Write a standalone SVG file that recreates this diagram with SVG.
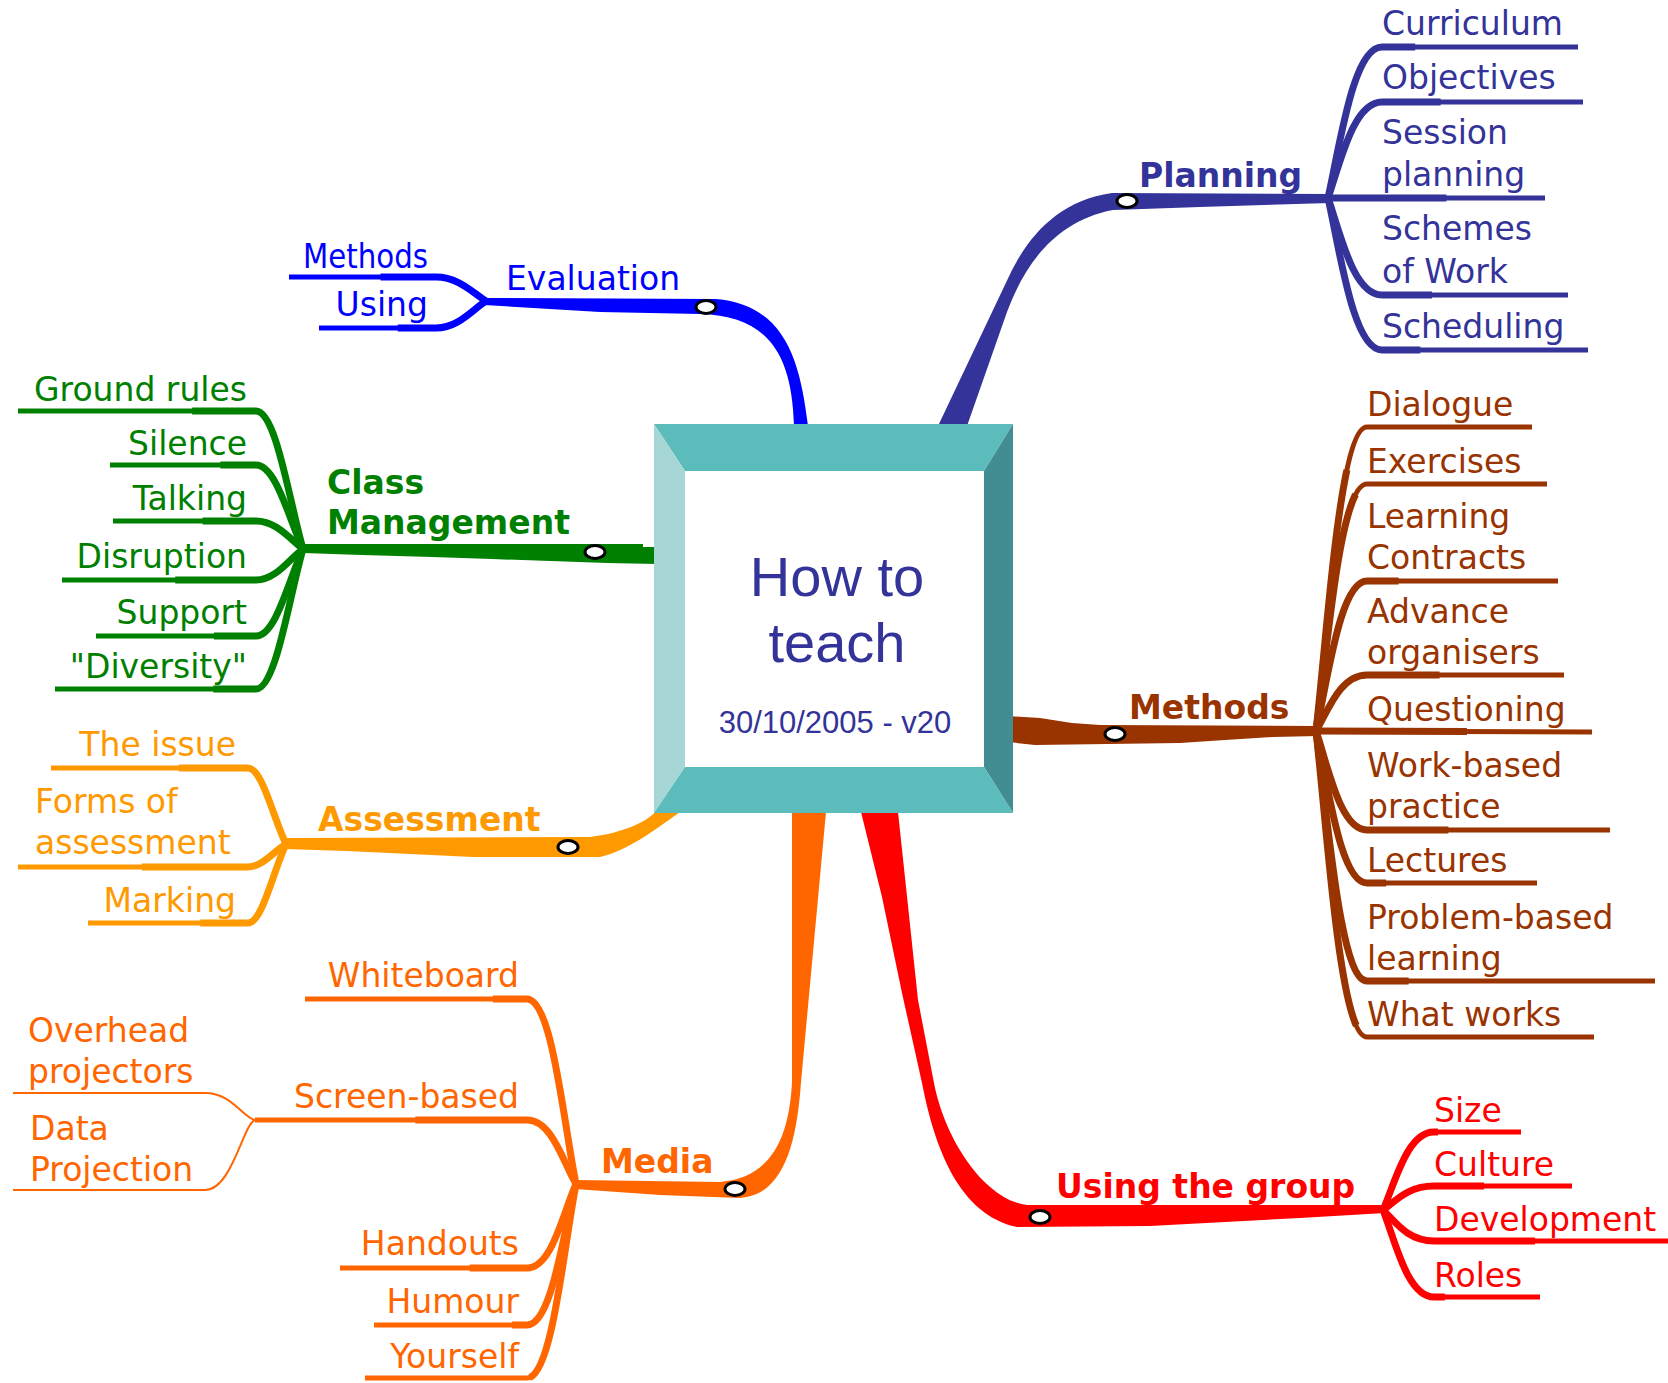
<svg xmlns="http://www.w3.org/2000/svg" xmlns:xlink="http://www.w3.org/1999/xlink" width="1668" height="1383" viewBox="0 0 1668 1383">
<style>
  .ln{fill:none;stroke-linecap:butt;stroke-linejoin:round}
  .plan{stroke:#333399} .eval{stroke:#0000ff} .cls{stroke:#008000} .asm{stroke:#ff9900}
  .med{stroke:#ff6600} .grp{stroke:#ff0000} .mth{stroke:#993300}
  .s1{stroke-width:5} .s2{stroke-width:7;stroke-dasharray:55 200} .thin{stroke-width:2}
  .lbl{font-family:"DejaVu Sans",Verdana,sans-serif;font-size:33px}
  .bold{font-weight:bold}
  .end{text-anchor:end}
  .tplan{fill:#333399} .teval{fill:#0000ff} .tcls{fill:#008000} .tasm{fill:#ff9900}
  .tmed{fill:#ff6600} .tgrp{fill:#ff0000} .tmth{fill:#993300}
  .title{font-family:"Liberation Sans",Arial,sans-serif;fill:#333399;text-anchor:middle}
  .mk{fill:#fff;stroke:#000;stroke-width:3}
</style>
<defs>
  <!-- Planning sub-topics -->
  <path id="p1" pathLength="100" d="M1328 198C1340 145 1353 47 1382 47L1578 47"/>
  <path id="p2" pathLength="100" d="M1328 198C1340 164 1353 102 1382 102L1583 102"/>
  <path id="p3" pathLength="100" d="M1326 198L1545 198"/>
  <path id="p4" pathLength="100" d="M1328 198C1340 232 1353 295 1382 295L1568 295"/>
  <path id="p5" pathLength="100" d="M1328 198C1340 251 1353 350 1382 350L1588 350"/>
  <!-- Methods sub-topics -->
  <path id="m1" pathLength="100" d="M1316 731C1328 625 1340 427 1367 427L1532 427"/>
  <path id="m2" pathLength="100" d="M1316 731C1328 645 1340 484 1367 484L1547 484"/>
  <path id="m3" pathLength="100" d="M1316 731C1328 679 1340 581 1367 581L1558 581"/>
  <path id="m4" pathLength="100" d="M1316 731C1328 711 1340 675 1367 675L1564 675"/>
  <path id="m5" pathLength="100" d="M1314 731L1592 732"/>
  <path id="m6" pathLength="100" d="M1316 731C1328 766 1340 830 1367 830L1610 830"/>
  <path id="m7" pathLength="100" d="M1316 731C1328 784 1340 883 1367 883L1537 883"/>
  <path id="m8" pathLength="100" d="M1316 731C1328 818 1340 981 1367 981L1655 981"/>
  <path id="m9" pathLength="100" d="M1316 731C1328 838 1340 1037 1367 1037L1594 1037"/>
  <!-- Using the group sub-topics -->
  <path id="u1" pathLength="100" d="M1383 1210C1395 1183 1407 1132 1434 1132L1521 1132"/>
  <path id="u2" pathLength="100" d="M1383 1210C1395 1202 1407 1186 1434 1186L1572 1186"/>
  <path id="u3" pathLength="100" d="M1383 1210C1395 1221 1407 1241 1434 1241L1668 1241"/>
  <path id="u4" pathLength="100" d="M1383 1210C1395 1240 1407 1297 1434 1297L1540 1297"/>
  <!-- Class Management sub-topics -->
  <path id="c1" pathLength="100" d="M303 549C289 500 276 411 256 411L18 411"/>
  <path id="c2" pathLength="100" d="M303 549C289 519 276 465 256 465L110 465"/>
  <path id="c3" pathLength="100" d="M303 549C289 538 276 521 256 521L113 521"/>
  <path id="c4" pathLength="100" d="M303 549C289 559 276 580 256 580L62 580"/>
  <path id="c5" pathLength="100" d="M303 549C289 579 276 636 256 636L96 636"/>
  <path id="c6" pathLength="100" d="M303 549C289 597 276 689 256 689L55 689"/>
  <!-- Evaluation sub-topics -->
  <path id="e1" pathLength="100" d="M486 301C472 292 458 277 436 277L289 277"/>
  <path id="e2" pathLength="100" d="M486 301C472 310 458 328 436 328L319 328"/>
  <!-- Assessment sub-topics -->
  <path id="a1" pathLength="100" d="M286 844C273 817 262 768 248 768L51 768"/>
  <path id="a2" pathLength="100" d="M286 844C273 852 262 867 248 867L18 867"/>
  <path id="a3" pathLength="100" d="M286 844C273 872 262 923 248 923L88 923"/>
  <!-- Media sub-topics -->
  <path id="d1" pathLength="100" d="M576 1184C563 1119 552 999 527 999L305 999"/>
  <path id="d2" pathLength="100" d="M576 1184C563 1162 552 1120 527 1120L255 1120"/>
  <path id="d3" pathLength="100" d="M576 1184C563 1213 552 1268 527 1268L340 1268"/>
  <path id="d4" pathLength="100" d="M576 1184C563 1233 552 1325 527 1325L374 1325"/>
  <path id="d5" pathLength="100" d="M576 1184C563 1252 552 1378 527 1378L365 1378"/>
</defs>

<rect width="1668" height="1383" fill="#fff"/>

<g id="connectors">
  <!-- tapered trunks from the central topic -->
  <path fill="#333399" d="M938 426L1012 270C1030 235 1060 200 1112 193L1330 194L1330 203L1200 207L1113 210C1050 222 1022 272 1007 312L967 426Z"/>
  <path fill="#0000ff" d="M794 426C792 350 765 316 700 314L600 312L484 305L484 298L716 299C785 305 800 360 808 426Z"/>
  <path fill="#008000" d="M303 544L643 544L643 547L657 547L657 564L607 563L492 559L432 557L362 555L303 553Z"/>
  <path fill="#ff9900" d="M657 810L683 810C660 826 630 850 600 857L473 857L410 854L347 851L285 849L285 838L590 837C615 834 645 825 657 810Z"/>
  <path fill="#ff6600" d="M792 812L826 812L801 1082C797 1140 785 1195 740 1198L660 1195L575 1189L575 1180L720 1182C770 1178 789 1140 792 1082Z"/>
  <path fill="#ff0000" d="M861 812L882 897L902 993L922 1083C935 1150 960 1215 1017 1227L1150 1226L1300 1218L1385 1213L1385 1205L1027 1205C985 1200 945 1140 934 1083L918 1000L906 887L898 812Z"/>
  <path fill="#993300" d="M1008 716L1040 718L1072 723L1100 725L1318 726L1318 736L1273 737L1225 740L1180 743L1035 745L1008 742Z"/>

  <!-- Planning -->
  <g class="ln plan">
    <use xlink:href="#p1" class="s1"/><use xlink:href="#p1" class="s2"/>
    <use xlink:href="#p2" class="s1"/><use xlink:href="#p2" class="s2"/>
    <use xlink:href="#p3" class="s1"/><use xlink:href="#p3" class="s2"/>
    <use xlink:href="#p4" class="s1"/><use xlink:href="#p4" class="s2"/>
    <use xlink:href="#p5" class="s1"/><use xlink:href="#p5" class="s2"/>
  </g>
  <!-- Evaluation -->
  <g class="ln eval">
    <use xlink:href="#e1" class="s1"/><use xlink:href="#e1" class="s2"/>
    <use xlink:href="#e2" class="s1"/><use xlink:href="#e2" class="s2"/>
  </g>
  <!-- Class Management -->
  <g class="ln cls">
    <use xlink:href="#c1" class="s1"/><use xlink:href="#c1" class="s2"/>
    <use xlink:href="#c2" class="s1"/><use xlink:href="#c2" class="s2"/>
    <use xlink:href="#c3" class="s1"/><use xlink:href="#c3" class="s2"/>
    <use xlink:href="#c4" class="s1"/><use xlink:href="#c4" class="s2"/>
    <use xlink:href="#c5" class="s1"/><use xlink:href="#c5" class="s2"/>
    <use xlink:href="#c6" class="s1"/><use xlink:href="#c6" class="s2"/>
  </g>
  <!-- Assessment -->
  <g class="ln asm">
    <use xlink:href="#a1" class="s1"/><use xlink:href="#a1" class="s2"/>
    <use xlink:href="#a2" class="s1"/><use xlink:href="#a2" class="s2"/>
    <use xlink:href="#a3" class="s1"/><use xlink:href="#a3" class="s2"/>
  </g>
  <!-- Media -->
  <g class="ln med">
    <use xlink:href="#d1" class="s1"/><use xlink:href="#d1" class="s2"/>
    <use xlink:href="#d2" class="s1"/><use xlink:href="#d2" class="s2"/>
    <use xlink:href="#d3" class="s1"/><use xlink:href="#d3" class="s2"/>
    <use xlink:href="#d4" class="s1"/><use xlink:href="#d4" class="s2"/>
    <use xlink:href="#d5" class="s1"/><use xlink:href="#d5" class="s2"/>
    <path class="thin" d="M255 1120C243 1118 232 1093 205 1093L13 1093"/>
    <path class="thin" d="M255 1120C243 1124 232 1190 205 1190L13 1190"/>
  </g>
  <!-- Using the group -->
  <g class="ln grp">
    <use xlink:href="#u1" class="s1"/><use xlink:href="#u1" class="s2"/>
    <use xlink:href="#u2" class="s1"/><use xlink:href="#u2" class="s2"/>
    <use xlink:href="#u3" class="s1"/><use xlink:href="#u3" class="s2"/>
    <use xlink:href="#u4" class="s1"/><use xlink:href="#u4" class="s2"/>
  </g>
  <!-- Methods -->
  <g class="ln mth">
    <use xlink:href="#m1" class="s1"/><use xlink:href="#m1" class="s2"/>
    <use xlink:href="#m2" class="s1"/><use xlink:href="#m2" class="s2"/>
    <use xlink:href="#m3" class="s1"/><use xlink:href="#m3" class="s2"/>
    <use xlink:href="#m4" class="s1"/><use xlink:href="#m4" class="s2"/>
    <use xlink:href="#m5" class="s1"/><use xlink:href="#m5" class="s2"/>
    <use xlink:href="#m6" class="s1"/><use xlink:href="#m6" class="s2"/>
    <use xlink:href="#m7" class="s1"/><use xlink:href="#m7" class="s2"/>
    <use xlink:href="#m8" class="s1"/><use xlink:href="#m8" class="s2"/>
    <use xlink:href="#m9" class="s1"/><use xlink:href="#m9" class="s2"/>
  </g>
  <!-- collapse markers on the trunks -->
  <ellipse class="mk" cx="1127" cy="201" rx="10" ry="6.5"/>
  <ellipse class="mk" cx="706" cy="307" rx="10" ry="6.5"/>
  <ellipse class="mk" cx="595" cy="552" rx="10" ry="6.5"/>
  <ellipse class="mk" cx="568" cy="847" rx="10" ry="6.5"/>
  <ellipse class="mk" cx="735" cy="1189" rx="10" ry="6.5"/>
  <ellipse class="mk" cx="1040" cy="1217" rx="10" ry="6.5"/>
  <ellipse class="mk" cx="1115" cy="734" rx="10" ry="6.5"/>
</g>

<!-- central topic -->
<g id="node-center">
  <polygon points="654,424 1013,424 984,471 685,471" fill="#5cbcbc"/>
  <polygon points="654,424 685,471 685,767 654,813" fill="#a6d7d6"/>
  <polygon points="1013,424 1013,813 984,767 984,471" fill="#428d91"/>
  <polygon points="654,813 685,767 984,767 1013,813" fill="#5cbcbc"/>
  <rect x="685" y="471" width="299" height="296" fill="#fff"/>
  <text class="title" x="837" y="596" font-size="56">How to</text>
  <text class="title" x="837" y="662" font-size="56">teach</text>
  <text class="title" x="835" y="733" font-size="31">30/10/2005 - v20</text>
</g>

<!-- Planning -->
<g id="node-planning"><text class="lbl bold tplan" x="1139" y="187">Planning</text></g>
<g id="node-curriculum"><text class="lbl tplan" x="1382" y="35">Curriculum</text></g>
<g id="node-objectives"><text class="lbl tplan" x="1382" y="89">Objectives</text></g>
<g id="node-session-planning"><text class="lbl tplan" x="1382" y="144">Session</text><text class="lbl tplan" x="1382" y="186">planning</text></g>
<g id="node-schemes"><text class="lbl tplan" x="1382" y="240">Schemes</text><text class="lbl tplan" x="1382" y="283">of Work</text></g>
<g id="node-scheduling"><text class="lbl tplan" x="1382" y="338">Scheduling</text></g>

<!-- Methods -->
<g id="node-methods"><text class="lbl bold tmth" x="1129" y="719">Methods</text></g>
<g id="node-dialogue"><text class="lbl tmth" x="1367" y="416">Dialogue</text></g>
<g id="node-exercises"><text class="lbl tmth" x="1367" y="473">Exercises</text></g>
<g id="node-learning-contracts"><text class="lbl tmth" x="1367" y="528">Learning</text><text class="lbl tmth" x="1367" y="569">Contracts</text></g>
<g id="node-advance-organisers"><text class="lbl tmth" x="1367" y="623">Advance</text><text class="lbl tmth" x="1367" y="664">organisers</text></g>
<g id="node-questioning"><text class="lbl tmth" x="1367" y="721">Questioning</text></g>
<g id="node-work-based"><text class="lbl tmth" x="1367" y="777">Work-based</text><text class="lbl tmth" x="1367" y="818">practice</text></g>
<g id="node-lectures"><text class="lbl tmth" x="1367" y="872">Lectures</text></g>
<g id="node-problem-based"><text class="lbl tmth" x="1367" y="929">Problem-based</text><text class="lbl tmth" x="1367" y="970">learning</text></g>
<g id="node-what-works"><text class="lbl tmth" x="1367" y="1026">What works</text></g>

<!-- Using the group -->
<g id="node-using-group"><text class="lbl bold tgrp" x="1056" y="1198">Using the group</text></g>
<g id="node-size"><text class="lbl tgrp" x="1434" y="1122">Size</text></g>
<g id="node-culture"><text class="lbl tgrp" x="1434" y="1176">Culture</text></g>
<g id="node-development"><text class="lbl tgrp" x="1434" y="1231">Development</text></g>
<g id="node-roles"><text class="lbl tgrp" x="1434" y="1287">Roles</text></g>

<!-- Evaluation -->
<g id="node-evaluation"><text class="lbl teval" x="506" y="290">Evaluation</text></g>
<g id="node-eval-methods"><text class="lbl teval end" x="428" y="268" textLength="125" lengthAdjust="spacingAndGlyphs">Methods</text></g>
<g id="node-eval-using"><text class="lbl teval end" x="428" y="316">Using</text></g>

<!-- Class Management -->
<g id="node-class-management"><text class="lbl bold tcls" x="327" y="494">Class</text><text class="lbl bold tcls" x="327" y="534">Management</text></g>
<g id="node-ground-rules"><text class="lbl tcls end" x="247" y="401">Ground rules</text></g>
<g id="node-silence"><text class="lbl tcls end" x="247" y="455">Silence</text></g>
<g id="node-talking"><text class="lbl tcls end" x="247" y="510">Talking</text></g>
<g id="node-disruption"><text class="lbl tcls end" x="247" y="568">Disruption</text></g>
<g id="node-support"><text class="lbl tcls end" x="247" y="624">Support</text></g>
<g id="node-diversity"><text class="lbl tcls end" x="247" y="678">"Diversity"</text></g>

<!-- Assessment -->
<g id="node-assessment"><text class="lbl bold tasm" x="318" y="831">Assessment</text></g>
<g id="node-the-issue"><text class="lbl tasm end" x="236" y="756">The issue</text></g>
<g id="node-forms"><text class="lbl tasm" x="35" y="813">Forms of</text><text class="lbl tasm" x="35" y="854">assessment</text></g>
<g id="node-marking"><text class="lbl tasm end" x="236" y="912">Marking</text></g>

<!-- Media -->
<g id="node-media"><text class="lbl bold tmed" x="601" y="1173">Media</text></g>
<g id="node-whiteboard"><text class="lbl tmed end" x="519" y="987">Whiteboard</text></g>
<g id="node-screen-based"><text class="lbl tmed end" x="519" y="1108">Screen-based</text></g>
<g id="node-overhead"><text class="lbl tmed" x="28" y="1042">Overhead</text><text class="lbl tmed" x="28" y="1083">projectors</text></g>
<g id="node-data-projection"><text class="lbl tmed" x="30" y="1140">Data</text><text class="lbl tmed" x="30" y="1181">Projection</text></g>
<g id="node-handouts"><text class="lbl tmed end" x="519" y="1255">Handouts</text></g>
<g id="node-humour"><text class="lbl tmed end" x="519" y="1313">Humour</text></g>
<g id="node-yourself"><text class="lbl tmed end" x="519" y="1368">Yourself</text></g>
</svg>
